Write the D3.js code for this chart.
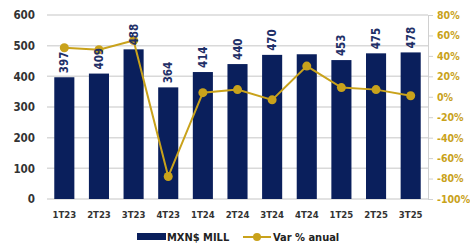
<!DOCTYPE html>
<meta charset="utf-8">
<style>
  body { margin: 0; background: #fff; }
  text { font-family: 'DejaVu Sans Condensed', 'DejaVu Sans', sans-serif; font-weight: bold; }
  .grid line { stroke: #d9d9d9; stroke-width: 1.5px; }
</style>
<script src="https://d3js.org/d3.v7.min.js"></script>
<svg width="470" height="246"></svg>
<script>
  var categories = ["1T23", "2T23", "3T23", "4T23", "1T24", "2T24", "3T24", "4T24", "1T25", "2T25", "3T25"];
  var mxnMill = [397, 409, 488, 364, 414, 440, 470, 472, 453, 475, 478];
  var barLabels = ["397", "409", "488", "364", "414", "440", "470", "", "453", "475", "478"];
  var varAnual = [48, 46, 55, -78, 4, 7, -3, 30, 9, 7, 1];
  var leftTicks = [0, 100, 200, 300, 400, 500, 600];
  var rightTicks = [-100, -80, -60, -40, -20, 0, 20, 40, 60, 80];

  var svg = d3.select("svg"),
    plotL = 47, plotR = 428, plotT = 15, plotB = 199;

  var x = d3.scaleBand().domain(categories).range([plotL, plotR]).paddingInner(0.42).paddingOuter(0.21);
  var y = d3.scaleLinear().domain([0, 600]).range([plotB, plotT]);
  var y2 = d3.scaleLinear().domain([-100, 80]).range([plotB, plotT]);

  // gridlines
  svg.append("g").attr("class", "grid")
    .selectAll("line").data(leftTicks).enter().append("line")
    .attr("x1", plotL).attr("x2", plotR)
    .attr("y1", function(d) { return y(d); }).attr("y2", function(d) { return y(d); });

  // left axis
  svg.append("g").attr("transform", "translate(" + plotL + ",0)")
    .call(d3.axisLeft(y).tickValues(leftTicks).tickSize(0).tickPadding(12))
    .call(function(g) { g.select(".domain").remove(); })
    .selectAll("text").style("font-size", "11.5px").attr("fill", "#333");

  // right axis
  svg.append("g").attr("transform", "translate(" + plotR + ",0)")
    .call(d3.axisRight(y2).tickValues(rightTicks).tickSize(5).tickPadding(4)
      .tickFormat(function(d) { return d + "%"; }))
    .call(function(g) {
      g.select(".domain").attr("stroke", "#d0d0d0");
      g.selectAll(".tick line").attr("stroke", "#d0d0d0");
    })
    .selectAll("text").style("font-size", "10.5px").attr("fill", "#c9a21b");

  // x axis labels
  svg.append("g").attr("transform", "translate(0," + plotB + ")")
    .call(d3.axisBottom(x).tickSize(0).tickPadding(12))
    .call(function(g) { g.select(".domain").remove(); })
    .selectAll("text").style("font-size", "9.5px").attr("fill", "#333");

  // bars
  svg.append("g").selectAll("rect").data(mxnMill).enter().append("rect")
    .attr("x", function(d, i) { return x(categories[i]); })
    .attr("width", x.bandwidth())
    .attr("y", function(d) { return y(d); })
    .attr("height", function(d) { return y(0) - y(d); })
    .attr("fill", "#0a1f5c");

  // line
  var line = d3.line()
    .x(function(d, i) { return x(categories[i]) + x.bandwidth() / 2; })
    .y(function(d) { return y2(d); });

  svg.append("path").datum(varAnual)
    .attr("d", line).attr("fill", "none")
    .attr("stroke", "#c9a21b").attr("stroke-width", 2);

  svg.append("g").selectAll("circle").data(varAnual).enter().append("circle")
    .attr("cx", function(d, i) { return x(categories[i]) + x.bandwidth() / 2; })
    .attr("cy", function(d) { return y2(d); })
    .attr("r", 4.5).attr("fill", "#c9a21b");

  // bar labels (drawn on top of the line)
  svg.append("g").selectAll("text").data(mxnMill).enter().append("text")
    .attr("transform", function(d, i) {
      return "translate(" + (x(categories[i]) + x.bandwidth() / 2 + 4) + "," + (y(d) - 4) + ") rotate(-90)";
    })
    .style("font-size", "11.5px")
    .attr("fill", "#1f3068")
    .text(function(d, i) { return barLabels[i]; });

  // legend
  var lg = svg.append("g").attr("transform", "translate(0,237)");
  lg.append("rect").attr("x", 137).attr("y", -4).attr("width", 29).attr("height", 7).attr("fill", "#0a1f5c");
  lg.append("text").attr("x", 167).attr("y", 4).style("font-size", "11px").attr("fill", "#222").text("MXN$ MILL");
  lg.append("line").attr("x1", 243).attr("x2", 271).attr("y1", 0).attr("y2", 0)
    .attr("stroke", "#c9a21b").attr("stroke-width", 2);
  lg.append("circle").attr("cx", 257).attr("cy", 0).attr("r", 4).attr("fill", "#c9a21b");
  lg.append("text").attr("x", 273).attr("y", 4).style("font-size", "11px").attr("fill", "#222").text("Var % anual");
</script>
